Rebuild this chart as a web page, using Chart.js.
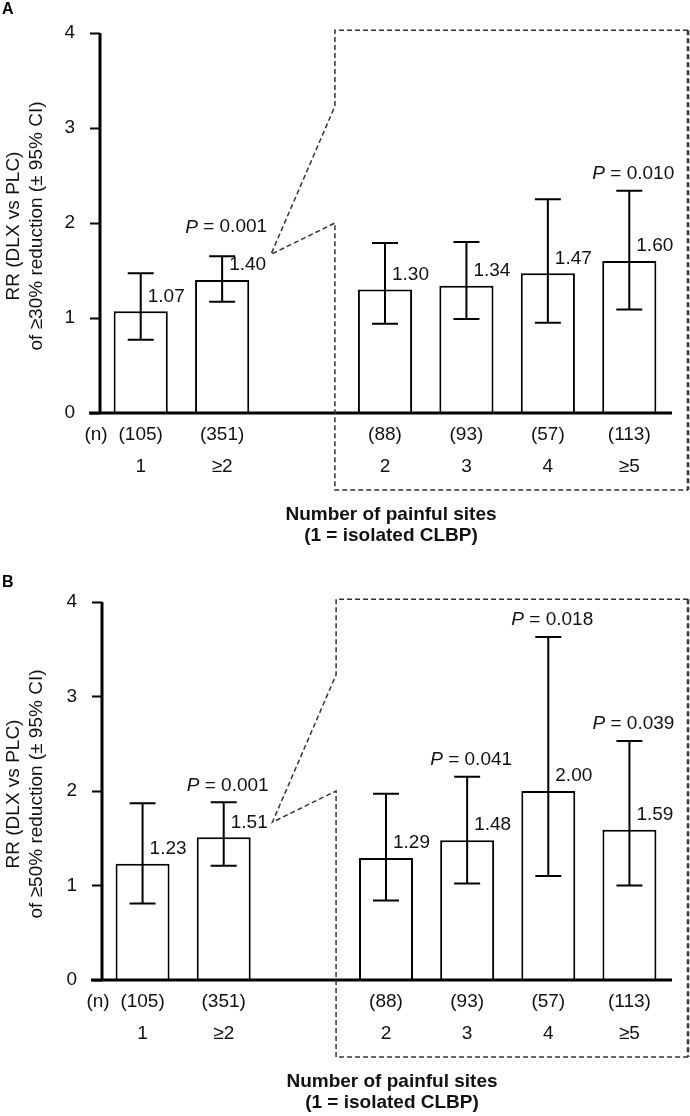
<!DOCTYPE html>
<html>
<head>
<meta charset="utf-8">
<script src="https://cdn.jsdelivr.net/npm/chart.js@4.4.1/dist/chart.umd.min.js"></script>
<style>
  html, body { margin: 0; padding: 0; background: #fff; }
  canvas { display: block; }
</style>
</head>
<body>
<canvas id="chartA" width="690" height="568"></canvas>
<canvas id="chartB" width="690" height="548"></canvas>
<script>
  // categories (empty slot is the gap before the zoomed box)
  const categories = ["1", "≥2", "", "2", "3", "4", "≥5"];
  const sampleSizes = ["(105)", "(351)", "", "(88)", "(93)", "(57)", "(113)"];
  const yTicks = [0, 1, 2, 3, 4];

  // panel A: >=30% reduction
  const rr30 = [1.07, 1.40, null, 1.30, 1.34, 1.47, 1.60];
  const ciLow30 = [0.77, 1.17, null, 0.94, 0.99, 0.95, 1.09];
  const ciHigh30 = [1.47, 1.65, null, 1.79, 1.80, 2.25, 2.34];
  const pValues30 = [null, "0.001", null, null, null, null, "0.010"];

  // panel B: >=50% reduction
  const rr50 = [1.23, 1.51, null, 1.29, 1.48, 2.00, 1.59];
  const ciLow50 = [0.81, 1.21, null, 0.84, 1.02, 1.10, 1.00];
  const ciHigh50 = [1.87, 1.88, null, 1.97, 2.15, 3.63, 2.53];
  const pValues50 = [null, "0.001", null, null, "0.041", "0.018", "0.039"];

  const FONT = "'Liberation Sans', Arial, Helvetica, sans-serif";
  const INK = "#111";

  const drawP = (ctx, value, cx, cy) => {
    ctx.font = `italic 19px ${FONT}`;
    const wP = ctx.measureText("P").width;
    const rest = " = " + value;
    ctx.font = `19px ${FONT}`;
    const wR = ctx.measureText(rest).width;
    const x0 = cx - (wP + wR) / 2;
    ctx.textAlign = "left";
    ctx.textBaseline = "middle";
    ctx.font = `italic 19px ${FONT}`;
    ctx.fillText("P", x0, cy);
    ctx.font = `19px ${FONT}`;
    ctx.fillText(rest, x0 + wP, cy);
  };

  const decor = (panel) => ({
    id: "decor" + panel.letter,
    afterDatasetsDraw(chart) {
      const { ctx, chartArea, scales: { x, y } } = chart;
      const base = y.getPixelForValue(0);
      ctx.save();
      ctx.fillStyle = INK;
      ctx.strokeStyle = "#000";

      // axis lines
      ctx.lineWidth = 3;
      ctx.beginPath();
      ctx.moveTo(chartArea.left, y.getPixelForValue(4));
      ctx.lineTo(chartArea.left, base + 1.5);
      ctx.moveTo(chartArea.left - 11, base);
      ctx.lineTo(chartArea.right + 2, base);
      ctx.stroke();

      // error bars + value labels + P values
      ctx.lineWidth = 2;
      panel.rr.forEach((v, i) => {
        if (v === null) return;
        const cx = x.getPixelForValue(i);
        const yHi = y.getPixelForValue(panel.hi[i]);
        const yLo = y.getPixelForValue(panel.lo[i]);
        ctx.beginPath();
        ctx.moveTo(cx, yHi);
        ctx.lineTo(cx, yLo);
        ctx.moveTo(cx - 13, yHi);
        ctx.lineTo(cx + 13, yHi);
        ctx.moveTo(cx - 13, yLo);
        ctx.lineTo(cx + 13, yLo);
        ctx.stroke();

        ctx.font = `19px ${FONT}`;
        ctx.textAlign = "left";
        ctx.textBaseline = "middle";
        ctx.fillText(v.toFixed(2), cx + 7, y.getPixelForValue(v) - 15);

        if (panel.p[i]) {
          const lift = panel.pLift[i] || 17;
          drawP(ctx, panel.p[i], cx + 4, yHi - lift);
        }
      });

      // dashed zoom box
      const boxLeft = x.getPixelForValue(2.385);
      const tipX = x.getPixelForValue(1.6);
      const boxRight = chartArea.right + 18;
      const boxTop = y.getPixelForValue(4.03);
      const boxBottom = base + 77;
      ctx.strokeStyle = "#333";
      ctx.lineWidth = 1.5;
      ctx.setLineDash([5, 3]);
      ctx.beginPath();
      ctx.moveTo(boxRight, boxTop);
      ctx.lineTo(boxLeft, boxTop);
      ctx.lineTo(boxLeft, y.getPixelForValue(3.23));
      ctx.lineTo(tipX, y.getPixelForValue(1.67));
      ctx.lineTo(boxLeft, y.getPixelForValue(2.0));
      ctx.lineTo(boxLeft, boxBottom);
      ctx.lineTo(boxRight, boxBottom);
      ctx.stroke();
      ctx.lineWidth = 2.5;
      ctx.beginPath();
      ctx.moveTo(boxRight, boxTop);
      ctx.lineTo(boxRight, boxBottom);
      ctx.stroke();
      ctx.setLineDash([]);

      // (n) row label
      ctx.fillStyle = INK;
      ctx.font = `19px ${FONT}`;
      ctx.textAlign = "center";
      ctx.textBaseline = "middle";
      ctx.fillText("(n)", chartArea.left - 4, base + 22);

      // x axis title
      ctx.font = `bold 19px ${FONT}`;
      const midX = (chartArea.left + chartArea.right) / 2 + 6;
      ctx.fillText("Number of painful sites", midX, base + 102);
      ctx.fillText("(1 = isolated CLBP)", midX, base + 123);

      // y axis title
      ctx.font = `19px ${FONT}`;
      const midY = (chartArea.top + chartArea.bottom) / 2 + 3;
      ctx.save();
      ctx.translate(14, midY);
      ctx.rotate(-Math.PI / 2);
      ctx.fillText(panel.yTitle[0], 0, 0);
      ctx.restore();
      ctx.save();
      ctx.translate(37, midY);
      ctx.rotate(-Math.PI / 2);
      ctx.fillText(panel.yTitle[1], 0, 0);
      ctx.restore();

      // panel letter
      ctx.font = `bold 16px ${FONT}`;
      ctx.textAlign = "left";
      ctx.textBaseline = "alphabetic";
      ctx.fillStyle = "#000";
      ctx.fillText(panel.letter, 2, panel.letterY);
      ctx.restore();
    }
  });

  const makePanel = (panel) => {
    const canvas = document.getElementById(panel.id);
    return new Chart(canvas, {
      type: "bar",
      data: {
        labels: categories.map((c, i) => [sampleSizes[i], c]),
        datasets: [{
          data: panel.rr,
          backgroundColor: "#fff",
          borderColor: "#000",
          borderWidth: 2,
          borderSkipped: "bottom",
          barPercentage: 0.665,
          categoryPercentage: 1
        }]
      },
      options: {
        responsive: false,
        animation: false,
        layout: { padding: { top: panel.top, right: 20, left: panel.left, bottom: 0 } },
        plugins: { legend: { display: false }, tooltip: { enabled: false } },
        scales: {
          x: {
            grid: { display: false, drawTicks: false },
            border: { display: false },
            ticks: { font: { family: FONT, size: 19, lineHeight: 32 / 19 }, color: INK, padding: 6, autoSkip: false, maxRotation: 0 },
            afterFit: (s) => { s.height = panel.height - panel.bottom; }
          },
          y: {
            min: 0,
            max: 4,
            afterBuildTicks: (s) => { s.ticks = yTicks.map((v) => ({ value: v })); },
            grid: { drawOnChartArea: false, drawTicks: true, tickLength: 10, tickWidth: 2, tickColor: "#000" },
            border: { display: false },
            ticks: { font: { family: FONT, size: 19 }, color: INK, padding: 15 },
            afterFit: (s) => { s.width = 100; }
          }
        }
      },
      plugins: [decor(panel)]
    });
  };

  makePanel({
    id: "chartA", letter: "A", height: 568, top: 33, bottom: 413, left: 0, letterY: 14,
    yTitle: ["RR (DLX vs PLC)", "of ≥30% reduction (± 95% CI)"],
    rr: rr30, lo: ciLow30, hi: ciHigh30, p: pValues30, pLift: { 1: 29 }
  });
  makePanel({
    id: "chartB", letter: "B", height: 548, top: 34, bottom: 412, left: 2, letterY: 19,
    yTitle: ["RR (DLX vs PLC)", "of ≥50% reduction (± 95% CI)"],
    rr: rr50, lo: ciLow50, hi: ciHigh50, p: pValues50, pLift: {}
  });
</script>
</body>
</html>
